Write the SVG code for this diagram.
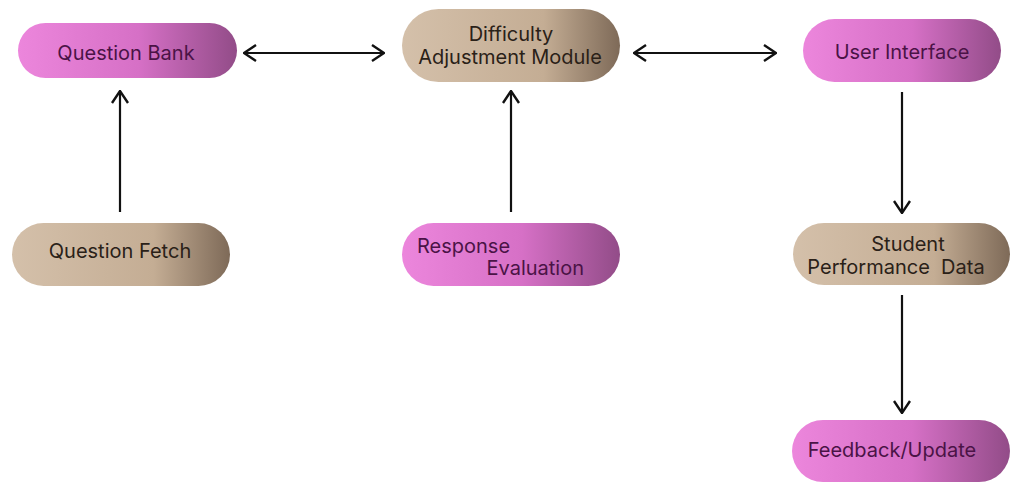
<svg xmlns="http://www.w3.org/2000/svg" width="1013" height="483" viewBox="0 0 1013 483">
<defs>
<linearGradient id="pink" x1="0" y1="0" x2="1" y2="0">
<stop offset="0" stop-color="#ec86dc"/>
<stop offset="0.55" stop-color="#d670c6"/>
<stop offset="1" stop-color="#924c88"/>
</linearGradient>
<linearGradient id="tan" x1="0" y1="0" x2="1" y2="0">
<stop offset="0" stop-color="#d4c0aa"/>
<stop offset="0.65" stop-color="#c4ad94"/>
<stop offset="1" stop-color="#7e6a58"/>
</linearGradient>
<marker id="ah" viewBox="0 0 14 18" refX="13" refY="9" markerWidth="14" markerHeight="18" markerUnits="userSpaceOnUse" orient="auto-start-reverse">
<path d="M1,1 L13,9 L1,17" fill="none" stroke="#111" stroke-width="2.4"/>
</marker>
<style>
.pk{fill:url(#pink)}
.tn{fill:url(#tan)}
.tp{font-family:Inter,"Liberation Sans",sans-serif;font-size:20px;fill:#4a1346}
.tt{font-family:Inter,"Liberation Sans",sans-serif;font-size:20px;fill:#2a2118}
.c{fill:none;stroke:#111;stroke-width:2.2}
</style>
</defs>
<rect width="1013" height="483" fill="#fff"/>
<g id="connectors">
<line class="c" x1="244" y1="53" x2="384" y2="53" marker-start="url(#ah)" marker-end="url(#ah)"/>
<line class="c" x1="634" y1="53" x2="776" y2="53" marker-start="url(#ah)" marker-end="url(#ah)"/>
<line class="c" x1="120" y1="212" x2="120" y2="91" marker-end="url(#ah)"/>
<line class="c" x1="511" y1="212" x2="511" y2="91" marker-end="url(#ah)"/>
<line class="c" x1="902" y1="92" x2="902" y2="213" marker-end="url(#ah)"/>
<line class="c" x1="902" y1="295" x2="902" y2="413" marker-end="url(#ah)"/>
</g>
<g id="question-bank">
<rect class="pk" x="18" y="23" width="219" height="55" rx="27.5"/>
<text class="tp" x="126" y="60" text-anchor="middle">Question Bank</text>
</g>
<g id="difficulty-adjustment-module">
<rect class="tn" x="402" y="9" width="218" height="73" rx="36.5"/>
<text class="tt" x="511" y="41" text-anchor="middle">Difficulty</text>
<text class="tt" x="510" y="64" text-anchor="middle">Adjustment Module</text>
</g>
<g id="user-interface">
<rect class="pk" x="803" y="19" width="198" height="63" rx="31.5"/>
<text class="tp" x="902" y="59" text-anchor="middle">User Interface</text>
</g>
<g id="question-fetch">
<rect class="tn" x="12" y="223" width="218" height="63" rx="31.5"/>
<text class="tt" x="120" y="258" text-anchor="middle">Question Fetch</text>
</g>
<g id="response-evaluation">
<rect class="pk" x="402" y="223" width="218" height="63" rx="31.5"/>
<text class="tp" x="417" y="253">Response</text>
<text class="tp" x="584" y="275" text-anchor="end">Evaluation</text>
</g>
<g id="student-performance-data">
<rect class="tn" x="793" y="223" width="217" height="62" rx="31"/>
<text class="tt" x="908" y="251" text-anchor="middle">Student</text>
<text class="tt" x="896" y="274" text-anchor="middle" xml:space="preserve">Performance  Data</text>
</g>
<g id="feedback-update">
<rect class="pk" x="792" y="420" width="218" height="62" rx="31"/>
<text class="tp" x="892" y="457" text-anchor="middle">Feedback/Update</text>
</g>
</svg>
